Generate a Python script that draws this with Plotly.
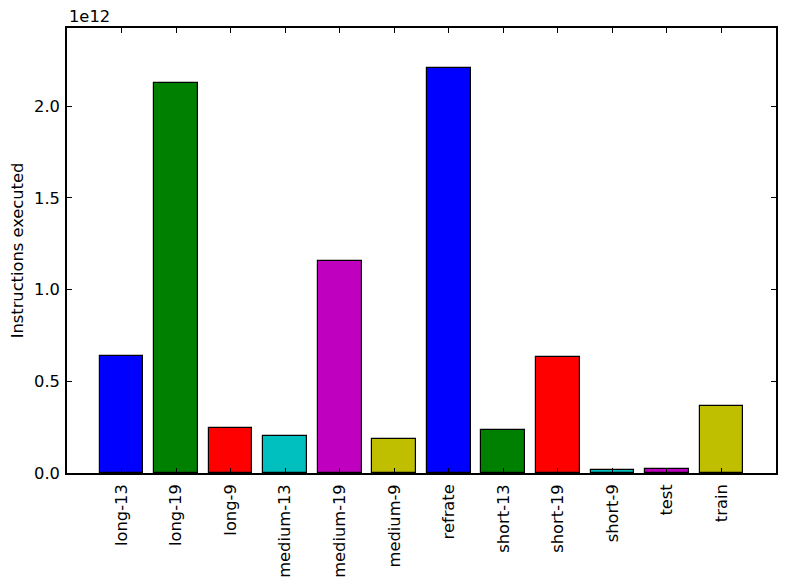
import plotly.graph_objects as go

categories = ["long-13", "long-19", "long-9", "medium-13", "medium-19", "medium-9",
              "refrate", "short-13", "short-19", "short-9", "test", "train"]
values_e12 = [0.639, 2.124, 0.243, 0.199, 1.156, 0.185,
              2.205, 0.234, 0.632, 0.016, 0.022, 0.365]
bar_colors = ["#0000ff", "#008000", "#ff0000", "#00bfbf", "#bf00bf", "#bfbf00",
              "#0000ff", "#008000", "#ff0000", "#00bfbf", "#bf00bf", "#bfbf00"]
y_ticks_e12 = [0.0, 0.5, 1.0, 1.5, 2.0]

values = [v * 1e12 for v in values_e12]
idx = list(range(len(categories)))

FONT = "DejaVu Sans"
FS = 16.3

fig = go.Figure()
fig.add_trace(go.Bar(
    x=idx, y=values, width=0.8,
    marker=dict(color=bar_colors, line=dict(color="black", width=1.2)),
    hoverinfo="skip",
))

fig.update_layout(
    width=785, height=584,
    margin=dict(l=67, r=9, t=28, b=111, autoexpand=False),
    paper_bgcolor="white", plot_bgcolor="white",
    font=dict(family=FONT, size=FS, color="black"),
    showlegend=False,
    bargap=0,
)
fig.update_xaxes(
    range=[-1, 12], automargin=False,
    tickvals=idx, ticktext=categories, tickangle=-90,
    ticks="inside", ticklen=5, tickwidth=1, tickcolor="black",
    showline=True, linecolor="black", linewidth=1.5, mirror="allticks",
    showgrid=False, zeroline=False,
    ticklabelstandoff=3,
)
fig.update_yaxes(
    range=[0, max(values) * 1.1], automargin=False,
    tickvals=[t * 1e12 for t in y_ticks_e12],
    ticktext=[f"{t:.1f}" for t in y_ticks_e12],
    ticks="inside", ticklen=5, tickwidth=1, tickcolor="black",
    showline=True, linecolor="black", linewidth=1.5, mirror="allticks",
    showgrid=False, zeroline=False,
    title=dict(text="Instructions executed", font=dict(family=FONT, size=FS), standoff=6),
    ticklabelstandoff=2,
)
fig.add_annotation(
    x=0, y=1, xref="paper", yref="paper", xanchor="left", yanchor="bottom",
    text="1e12", showarrow=False, font=dict(family=FONT, size=FS), yshift=0,
)

fig.write_html("out.html")
